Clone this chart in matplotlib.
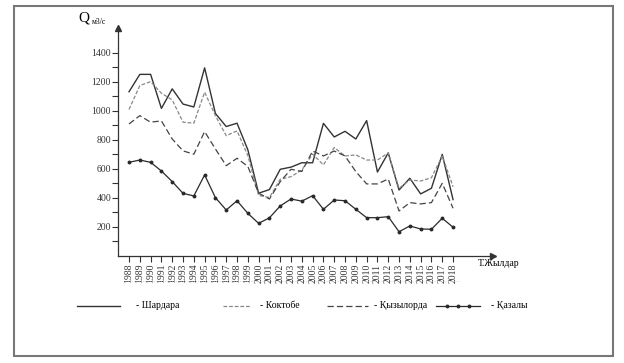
import matplotlib.pyplot as plt
from matplotlib.lines import Line2D
from matplotlib.patches import Rectangle

years = list(range(1988, 2019))

# Q, m3/s
shardara = [1130, 1250, 1250, 1015, 1150, 1045, 1025, 1295, 980, 890, 913, 730,
            430, 455, 595, 610, 640, 640, 912, 818, 857, 804, 931, 576, 708, 452,
            533, 425, 464, 698, 386]
koktobe = [1008, 1173, 1200, 1120, 1074, 920, 913, 1127, 965, 827, 860, 690,
           415, 400, 526, 544, 590, 700, 625, 745, 687, 694, 659, 659, 708, 464,
           521, 514, 537, 687, 475]
kyzylorda = [908, 965, 920, 929, 804, 722, 699, 855, 735, 620, 671, 615,
             430, 390, 510, 595, 580, 721, 687, 721, 687, 579, 494, 494, 528, 307,
             365, 356, 365, 498, 326]
kazaly = [643, 659, 643, 583, 510, 429, 411, 556, 399, 314, 378, 291,
          222, 260, 342, 390, 375, 413, 319, 383, 378, 319, 261, 261, 268, 164,
          204, 183, 181, 257, 195]

y_ticks = [200, 400, 600, 800, 1000, 1200, 1400]
legend_names = ['Шардара', 'Коктобе', 'Қызылорда', 'Қазалы']

plt.rcParams['font.family'] = ['Liberation Serif', 'DejaVu Serif']

W, H = 624, 363
fig = plt.figure(figsize=(W / 100, H / 100), dpi=100)

# outer frame
fig.patches.append(Rectangle((14 / W, 1 - 356 / H), 599 / W, 350 / H,
                             transform=fig.transFigure, fill=False,
                             edgecolor='#777777', linewidth=1.5))

ax = fig.add_axes([118 / W, 1 - 255.5 / H, 375 / W, 227.5 / H])
ax.set_xlim(1986.98, 2021.7)
ax.set_ylim(0, 1570)

styles = [
    dict(color='#333333', lw=1.0, ls='-'),
    dict(color='#888888', lw=0.9, ls=(0, (3, 1.5))),
    dict(color='#444444', lw=0.9, ls=(0, (5, 2.5))),
    dict(color='#2a2a2a', lw=0.9, marker='o', ms=1.8, markerfacecolor='#2a2a2a'),
]
for values, st in zip([shardara, koktobe, kyzylorda, kazaly], styles):
    ax.plot(years, values, **st)

for side in ['top', 'right']:
    ax.spines[side].set_visible(False)
for side in ['left', 'bottom']:
    ax.spines[side].set_color('#333333')
    ax.spines[side].set_linewidth(0.9)

# arrow heads on axes
ax.plot(1, 0, '>', color='#333333', ms=4, transform=ax.transAxes, clip_on=False)
ax.plot(0, 1, '^', color='#333333', ms=4, transform=ax.transAxes, clip_on=False)

ax.set_yticks(y_ticks)
ax.set_yticks([100, 300, 500, 700, 900, 1100, 1300], minor=True)
ax.tick_params(axis='y', which='both', direction='out', length=4, width=0.8,
               labelsize=7, pad=1, colors='#333333')
ax.set_xticks(years)
ax.set_xticklabels([str(y) for y in years], rotation=90)
ax.tick_params(axis='x', direction='out', length=4, width=0.8, labelsize=7,
               pad=2, colors='#333333')

fig.text(78 / W, 1 - 22 / H, 'Q', fontsize=11, va='baseline')
fig.text(92 / W, 1 - 24 / H, 'м3/с', fontsize=5.5, va='baseline')
fig.text(478 / W, 1 - 266 / H, 'Т.Жылдар', fontsize=7, va='baseline')

# faint dotted line under tick labels
fig.add_artist(Line2D([125 / W, 460 / W], [1 - 281 / H, 1 - 281 / H],
                      color='#cccccc', lw=0.6, ls=':'))

# legend row
ly = 1 - 306 / H
spans = [(77, 120), (223, 250), (327, 368), (436, 480)]
text_x = [136, 260, 374, 491]
for (x0, x1), st, tx, name in zip(spans, styles, text_x, legend_names):
    if 'marker' in st:
        xs = [x0, x0 + 11, (x0 + x1) / 2, x1 - 11, x1]
        fig.add_artist(Line2D([x / W for x in xs], [ly] * 5,
                              markevery=[1, 2, 3], **st))
    else:
        fig.add_artist(Line2D([x0 / W, x1 / W], [ly, ly], **st))
    fig.text(tx / W, ly, '- ' + name, fontsize=7, va='center')

fig.savefig('out.png', dpi=100)
